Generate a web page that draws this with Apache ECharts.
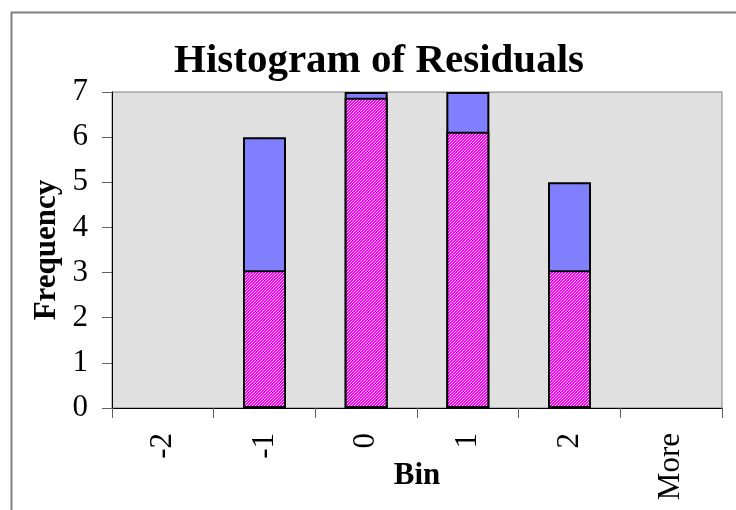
<!DOCTYPE html>
<html>
<head>
<meta charset="utf-8">
<script src="https://cdn.jsdelivr.net/npm/echarts@6/dist/echarts.min.js"></script>
<style>
html,body{margin:0;padding:0;background:#fff;}
#c{width:736px;height:510px;}
</style>
</head>
<body>
<div id="c"></div>
<script>
var categories = ['-2', '-1', '0', '1', '2', 'More'];
var frequency = [null, 6, 7, 7, 5, null];
var hatched = [null, 3.05, 6.87, 6.12, 3.05, null];
var yTicks = { min: 0, max: 7, interval: 1 };

function makeHatch() {
  var cv = document.createElement('canvas');
  cv.width = 6; cv.height = 6;
  var ctx = cv.getContext('2d');
  var img = ctx.createImageData(6, 6);
  for (var y = 0; y < 6; y++) {
    for (var x = 0; x < 6; x++) {
      var i = (y * 6 + x) * 4;
      var on = ((x + y) % 3) !== 0;
      img.data[i] = 255;
      img.data[i + 1] = on ? 0 : 200;
      img.data[i + 2] = 255;
      img.data[i + 3] = 255;
    }
  }
  ctx.putImageData(img, 0, 0);
  return cv;
}

var chart = echarts.init(document.getElementById('c'), null, { renderer: 'canvas' });
var serif = '"Liberation Serif", "Times New Roman", serif';
chart.setOption({
  animation: false,
  title: {
    text: 'Histogram of Residuals',
    left: 374, top: 36, textAlign: 'center',
    textStyle: { fontFamily: serif, fontWeight: 'bold', fontSize: 41, color: '#000' }
  },
  graphic: [{
    type: 'rect', left: 9, top: 10, z: -10,
    shape: { width: 740, height: 520 },
    style: { fill: 'none', stroke: '#808080', lineWidth: 2 }
  }],
  grid: {
    left: 112, top: 92, right: 14, bottom: 102,
    outerBoundsMode: 'none', containLabel: false,
    show: true, backgroundColor: '#e0e0e0', borderColor: '#808080', borderWidth: 1
  },
  xAxis: {
    type: 'category', data: categories, boundaryGap: true,
    name: 'Bin', nameLocation: 'middle', nameGap: 52, nameMoveOverlap: false,
    nameTextStyle: { fontFamily: serif, fontWeight: 'bold', fontSize: 31, color: '#000' },
    axisLine: { lineStyle: { color: '#000', width: 1 } },
    axisTick: { show: true, length: 10, alignWithLabel: false, lineStyle: { color: '#606060' } },
    axisLabel: { rotate: 90, margin: 25, fontFamily: serif, fontSize: 31, color: '#000' },
    splitLine: { show: false }
  },
  yAxis: {
    type: 'value', min: yTicks.min, max: yTicks.max, interval: yTicks.interval,
    name: 'Frequency', nameLocation: 'middle', nameGap: 50, nameMoveOverlap: false,
    nameTextStyle: { fontFamily: serif, fontWeight: 'bold', fontSize: 31, color: '#000' },
    axisLine: { show: true, lineStyle: { color: '#000', width: 1 } },
    axisTick: { show: true, length: 10, lineStyle: { color: '#606060' } },
    axisLabel: { margin: 24, fontFamily: serif, fontSize: 31, color: '#000' },
    splitLine: { show: false }
  },
  series: [{
    name: 'Frequency', type: 'bar', data: frequency,
    barWidth: 43, barGap: '-100%',
    itemStyle: { color: '#8080ff', borderColor: '#000', borderWidth: 2 }
  }, {
    name: 'Hatched', type: 'bar', data: hatched,
    barWidth: 43,
    itemStyle: { color: { image: makeHatch(), repeat: 'repeat' }, borderColor: '#000', borderWidth: 2 }
  }]
});
</script>
</body>
</html>
